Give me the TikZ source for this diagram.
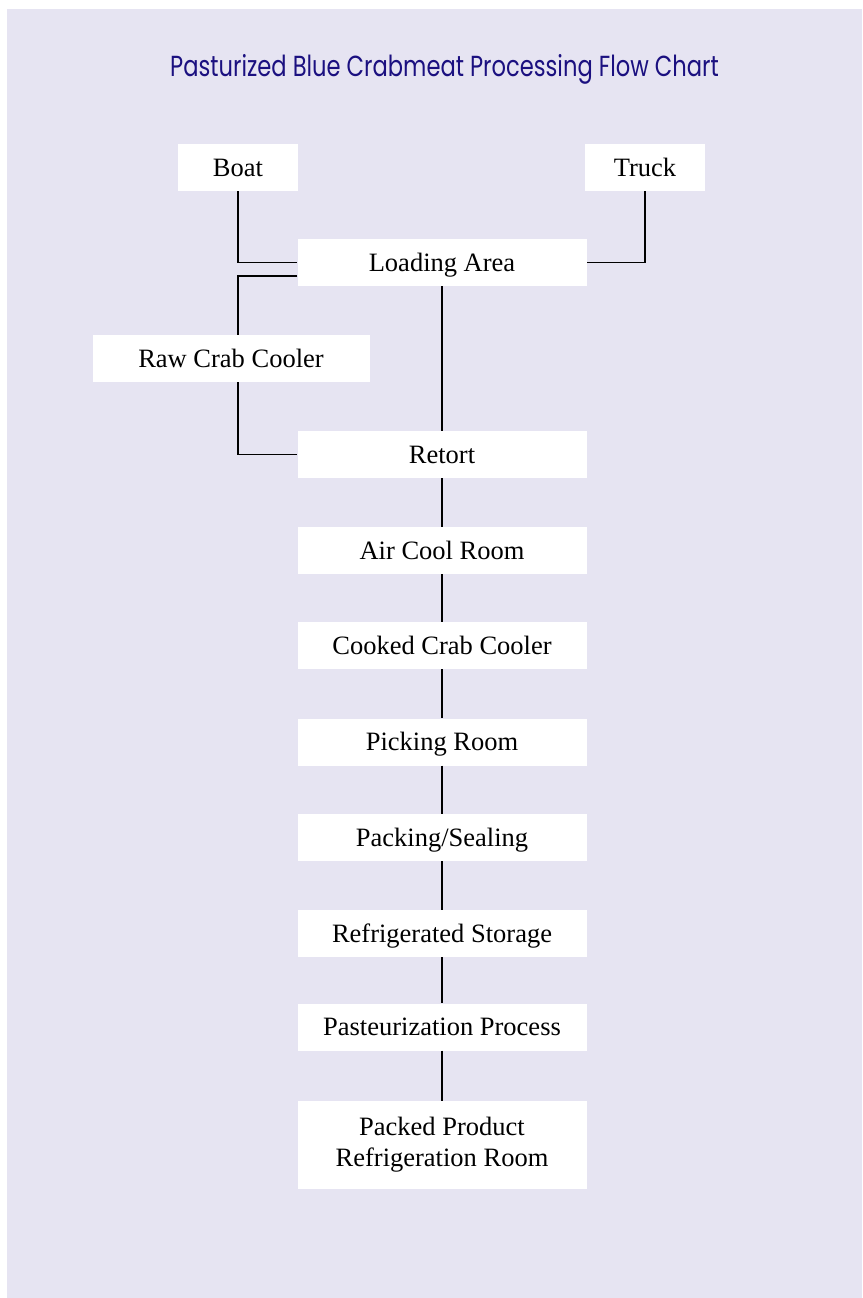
\documentclass[tikz,border=0pt]{standalone}
\usepackage{fontspec}
\usepackage{graphicx}
\setmainfont{Liberation Serif}
\newfontfamily\titlefont{Poppins}
\usetikzlibrary{calc}
\definecolor{bgcol}{RGB}{230,228,242}
\definecolor{titlecol}{RGB}{27,16,128}
\begin{document}
\begin{tikzpicture}[x=1pt,y=-1pt,
  stepbox/.style={fill=white, inner sep=0pt, minimum height=47pt, align=center,
    text height=20pt, text depth=3pt, font=\fontsize{26.5}{31}\selectfont},
  mainbox/.style={stepbox, minimum width=289pt},
  link/.style={draw=black, line width=1.2pt}]
\useasboundingbox (0,0) rectangle (862,1298);
\fill[bgcol] (7,9) rectangle (862,1298);
\node[font=\titlefont\fontsize{29}{34}\selectfont, text=titlecol] (title) at (444.5,69)
  {\scalebox{0.78}[1]{Pasturized Blue Crabmeat Processing Flow Chart}};
\node[stepbox, minimum width=120pt] (boat) at (238,167.5) {Boat};
\node[stepbox, minimum width=120pt] (truck) at (645,167.5) {Truck};
\node[mainbox] (loading) at (442,262.5) {Loading Area};
\node[stepbox, minimum width=277pt] (raw) at (231,358.5) {Raw Crab Cooler};
\node[mainbox] (retort) at (442,454.5) {Retort};
\node[mainbox] (air) at (442,550.5) {Air Cool Room};
\node[mainbox] (cooked) at (442,645.5) {Cooked Crab Cooler};
\node[mainbox] (picking) at (442,742) {Picking Room};
\node[mainbox] (packing) at (442,837.5) {Packing/Sealing};
\node[mainbox] (refrig) at (442,933.5) {Refrigerated Storage};
\node[mainbox] (pasteur) at (442,1027) {Pasteurization Process};
\node[mainbox, minimum height=88pt, text height=, text depth=] (packed) at (442,1145) {Packed Product\\Refrigeration Room};
\coordinate (lw2) at ($(loading.west)+(0,13.5)$);
\draw[link] (boat.south) |- (loading.west);
\draw[link] (truck.south) |- (loading.east);
\draw[link] (lw2) -| (boat.south |- raw.north);
\draw[link] (boat.south |- raw.south) |- (retort.west);
\draw[link] (loading.south) -- (retort.north);
\draw[link] (retort.south) -- (air.north);
\draw[link] (air.south) -- (cooked.north);
\draw[link] (cooked.south) -- (picking.north);
\draw[link] (picking.south) -- (packing.north);
\draw[link] (packing.south) -- (refrig.north);
\draw[link] (refrig.south) -- (pasteur.north);
\draw[link] (pasteur.south) -- (packed.north);
\end{tikzpicture}
\end{document}
